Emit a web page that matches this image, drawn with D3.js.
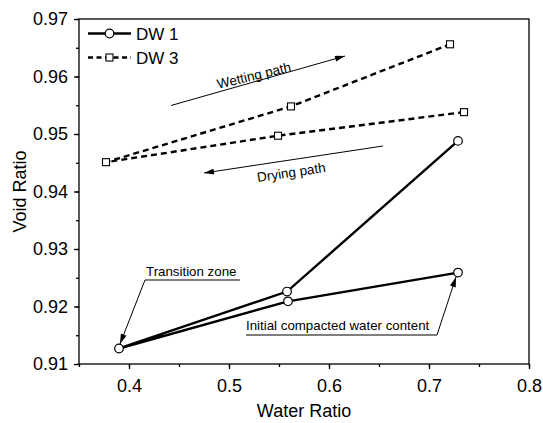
<!DOCTYPE html>
<html><head><meta charset="utf-8">
<script src="https://cdn.jsdelivr.net/npm/d3@7"></script>
<style>body{margin:0;background:#fff}svg{display:block}text{font-family:"Liberation Sans",Arial,sans-serif;fill:#000}</style>
</head><body><svg id="c" width="543" height="423"></svg>
<script>
const seriesNames = ["DW 1", "DW 3"];
const dw1X = [0.729, 0.559, 0.390, 0.558, 0.729];
const dw1Y = [0.9259, 0.9209, 0.9127, 0.9226, 0.9488];
const dw3X = [0.735, 0.549, 0.377, 0.562, 0.721];
const dw3Y = [0.9538, 0.9497, 0.9451, 0.9548, 0.9656];
const xTicks = [0.4, 0.5, 0.6, 0.7, 0.8];
const yTicks = [0.91, 0.92, 0.93, 0.94, 0.95, 0.96, 0.97];
const xLabel = "Water Ratio", yLabel = "Void Ratio";

const svg = d3.select("#c");
const L = 79, R = 529, T = 19, B = 364;
const x = d3.scaleLinear().domain([0.35, 0.8]).range([L, R]);
const y = d3.scaleLinear().domain([0.91, 0.97]).range([B, T]);

svg.append("rect").attr("x", L).attr("y", T).attr("width", R - L).attr("height", B - T)
  .attr("fill", "none").attr("stroke", "#000").attr("stroke-width", 1.3);

const fmt = d3.format(".1f"), fmtY = d3.format(".2f");
const minorX = d3.range(0.35, 0.8001, 0.05).map(v => +v.toFixed(3));
const minorY = d3.range(0.91, 0.9701, 0.005).map(v => +v.toFixed(4));
const gx = svg.append("g").attr("transform", `translate(0,${B})`);
gx.call(d3.axisBottom(x).tickValues(minorX).tickSize(3).tickFormat(""));
gx.select(".domain").remove();
const gx2 = svg.append("g").attr("transform", `translate(0,${B})`);
gx2.call(d3.axisBottom(x).tickValues(xTicks).tickSize(5).tickPadding(10).tickFormat(fmt));
gx2.select(".domain").remove();
gx2.selectAll("text").attr("font-size", 18).attr("font-family", "Liberation Sans, Arial, sans-serif");

const gy = svg.append("g").attr("transform", `translate(${L},0)`);
gy.call(d3.axisLeft(y).tickValues(minorY).tickSize(3).tickFormat(""));
gy.select(".domain").remove();
const gy2 = svg.append("g").attr("transform", `translate(${L},0)`);
gy2.call(d3.axisLeft(y).tickValues(yTicks).tickSize(5).tickPadding(6).tickFormat(fmtY));
gy2.select(".domain").remove();
gy2.selectAll("text").attr("font-size", 18).attr("font-family", "Liberation Sans, Arial, sans-serif");
svg.selectAll("g line").attr("stroke-width", 1.3);

svg.append("text").attr("x", (L + R) / 2).attr("y", 417).attr("text-anchor", "middle")
  .attr("font-size", 18).text(xLabel);
svg.append("text").attr("transform", `translate(26,${(T + B) / 2}) rotate(-90)`)
  .attr("text-anchor", "middle").attr("font-size", 18).text(yLabel);

const defs = svg.append("defs");
defs.append("marker").attr("id", "ah").attr("viewBox", "0 0 10 6").attr("refX", 10).attr("refY", 3)
  .attr("markerWidth", 11).attr("markerHeight", 6).attr("markerUnits", "userSpaceOnUse").attr("orient", "auto")
  .append("path").attr("d", "M0,0L10,3L0,6Z").attr("fill", "#000");

const line = d3.line().x(d => x(d[0])).y(d => y(d[1]));
const dw1 = dw1X.map((v, i) => [v, dw1Y[i]]);
const dw3 = dw3X.map((v, i) => [v, dw3Y[i]]);
svg.append("path").datum(dw1).attr("d", line).attr("fill", "none").attr("stroke", "#000").attr("stroke-width", 2.4);
svg.append("path").datum(dw3).attr("d", line).attr("fill", "none").attr("stroke", "#000").attr("stroke-width", 2.4)
  .attr("stroke-dasharray", "6,4");
svg.selectAll(".c1").data(dw1).join("circle").attr("cx", d => x(d[0])).attr("cy", d => y(d[1])).attr("r", 4.3)
  .attr("fill", "#fff").attr("stroke", "#000").attr("stroke-width", 1.2);
svg.selectAll(".s3").data(dw3).join("rect").attr("x", d => x(d[0]) - 3.5).attr("y", d => y(d[1]) - 3.5)
  .attr("width", 7).attr("height", 7).attr("fill", "#fff").attr("stroke", "#000").attr("stroke-width", 1.1);

const lg = svg.append("g");
lg.append("line").attr("x1", 88).attr("x2", 131).attr("y1", 33.5).attr("y2", 33.5).attr("stroke", "#000").attr("stroke-width", 2.4);
lg.append("circle").attr("cx", 109.5).attr("cy", 33.5).attr("r", 4.3).attr("fill", "#fff").attr("stroke", "#000").attr("stroke-width", 1.2);
lg.append("text").attr("x", 136).attr("y", 40).attr("font-size", 17).text(seriesNames[0]);
lg.append("line").attr("x1", 88).attr("x2", 131).attr("y1", 57.5).attr("y2", 57.5).attr("stroke", "#000").attr("stroke-width", 2.4).attr("stroke-dasharray", "5,3.5");
lg.append("rect").attr("x", 106).attr("y", 54).attr("width", 7).attr("height", 7).attr("fill", "#fff").attr("stroke", "#000").attr("stroke-width", 1.1);
lg.append("text").attr("x", 136).attr("y", 64).attr("font-size", 17).text(seriesNames[1]);

function arrow(x1, y1, x2, y2) {
  svg.append("line").attr("x1", x1).attr("y1", y1).attr("x2", x2).attr("y2", y2)
    .attr("stroke", "#000").attr("stroke-width", 1).attr("marker-end", "url(#ah)");
}
arrow(171, 105.5, 345, 56);
svg.append("text").attr("transform", "translate(255,80) rotate(-13.5)").attr("text-anchor", "middle")
  .attr("font-size", 13.5).text("Wetting path");
arrow(383, 146, 204, 173);
svg.append("text").attr("transform", "translate(292,177) rotate(-8.5)").attr("text-anchor", "middle")
  .attr("font-size", 13.5).text("Drying path");

svg.append("text").attr("x", 146).attr("y", 276).attr("font-size", 13.3).text("Transition zone");
svg.append("path").attr("d", "M240,280L145,280L120,344").attr("fill", "none").attr("stroke", "#000").attr("stroke-width", 1)
  .attr("marker-end", "url(#ah)");
svg.append("text").attr("x", 246).attr("y", 330).attr("font-size", 13.3).text("Initial compacted water content");
svg.append("path").attr("d", "M246,335L437,335L456,277").attr("fill", "none").attr("stroke", "#000").attr("stroke-width", 1)
  .attr("marker-end", "url(#ah)");
</script></body></html>
